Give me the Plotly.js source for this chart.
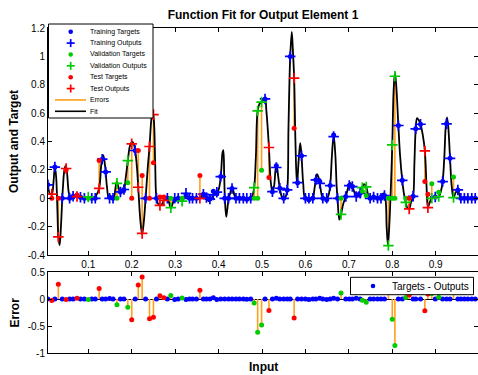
<!DOCTYPE html>
<html><head><meta charset="utf-8">
<script src="https://cdn.plot.ly/plotly-3.0.1.min.js"></script>
<style>html,body{margin:0;padding:0;background:#fff}#chart{width:478px;height:375px}</style>
</head><body><div id="chart"></div>
<script>
// ---------- DATA ----------
const trainX = [0.007,0.023,0.040,0.057,0.065,0.082,0.091,0.108,0.116,0.132,0.140,0.149,0.157,0.174,0.182,0.208,0.232,0.257,0.282,0.299,0.307,0.325,0.333,0.340,0.349,0.365,0.372,0.380,0.388,0.396,0.405,0.414,0.423,0.431,0.440,0.448,0.457,0.465,0.474,0.507,0.524,0.533,0.541,0.550,0.558,0.565,0.582,0.591,0.600,0.608,0.617,0.624,0.633,0.640,0.649,0.657,0.665,0.674,0.693,0.701,0.708,0.717,0.726,0.749,0.757,0.766,0.774,0.782,0.814,0.823,0.848,0.854,0.865,0.899,0.916,0.925,0.933,0.951,0.958,0.966,0.974,0.983,0.991];
const trainT = [0.095,0.22,0,0,0.015,0.008,0,0,0,0.276,0.186,0.01,0,0.045,0.062,0.337,0,0,0,-0.01,0,0.025,0,0,0,0.029,0.005,-0.005,0.049,0.033,0.153,0,0,0.07,0,0,0,-0.006,0,0.70,0.047,0.229,0.071,0,0.059,1.0,0.11,0.30,0,-0.01,0,0.13,0.118,0,-0.01,0.09,0.447,0,0.012,0.09,0.083,0.024,0.035,0,0.01,0,0,0.02,0.513,0.127,0.014,0.49,0.522,0.01,0.118,0.525,0.282,0.059,0,0,0,0,0];
const trainY = [0.095,0.22,0,0,0.015,0.008,0,0,0,0.276,0.186,0,0,0.045,0.062,0.337,0,0,0,0,0,0.035,0,0,0,0.029,0.005,-0.005,0.024,0.043,0.153,0,0,0.07,0,0,0,0,0,0.70,0.047,0.217,0.071,0,0.059,1.0,0.11,0.30,0,0,0,0.13,0.106,0,0,0.09,0.435,0,0.012,0.09,0.083,0.012,0.035,0,0.01,0,0,0.02,0.513,0.127,0.014,0.49,0.522,0.01,0.118,0.525,0.282,0.059,0,0,0,0,0];

const valX = [0.100,0.166,0.191,0.290,0.316,0.482,0.490,0.499,0.682,0.731,0.740,0.791,0.800,0.806,0.831,0.891,0.907,0.941];
const valT = [0,0,0.11,0,0,0,0,0.198,0,0.05,0.02,0,0,0,0,0.103,0.043,0.15];
const valY = [0.01,0.106,0.265,-0.066,-0.02,0.075,0.616,0.678,-0.113,0.075,0.08,-0.333,0.376,0.86,-0.028,0,0.012,0.005];

const testX = [0.016,0.031,0.049,0.074,0.125,0.200,0.215,0.224,0.241,0.250,0.265,0.274,0.357,0.516,0.574,0.839,0.875,0.882];
const testT = [0,0,0.20,0.024,0.266,0,0.337,0.16,0,0.25,0.01,0.01,0.16,0.146,0.494,0,0.118,0.028];
const testY = [0.03,-0.272,0.21,0.012,0.07,0.384,0.078,-0.247,0.365,0.59,-0.05,-0.015,0,0.358,0.847,-0.075,0.334,-0.066];

const fitX = [0.007,0.012,0.016,0.020,0.023,0.026,0.029,0.031,0.034,0.037,0.041,0.045,0.048,0.051,0.055,0.059,0.065,0.071,0.077,0.085,0.095,0.112,0.118,0.125,0.130,0.1345,0.139,0.143,0.148,0.158,0.162,0.1655,0.170,0.174,0.182,0.186,0.191,0.196,0.201,0.205,0.208,0.212,0.215,0.220,0.224,0.228,0.232,0.237,0.241,0.245,0.248,0.251,0.254,0.257,0.261,0.265,0.270,0.274,0.278,0.282,0.286,0.290,0.294,0.299,0.307,0.312,0.316,0.320,0.325,0.330,0.335,0.357,0.361,0.365,0.369,0.372,0.377,0.381,0.388,0.396,0.400,0.405,0.409,0.411,0.413,0.4145,0.4175,0.420,0.4233,0.427,0.431,0.435,0.440,0.474,0.478,0.482,0.486,0.490,0.495,0.499,0.503,0.507,0.510,0.513,0.516,0.520,0.524,0.528,0.532,0.534,0.537,0.541,0.546,0.550,0.554,0.558,0.561,0.565,0.5685,0.571,0.574,0.577,0.5805,0.584,0.588,0.591,0.595,0.600,0.617,0.620,0.624,0.6267,0.630,0.633,0.637,0.640,0.649,0.653,0.657,0.661,0.665,0.669,0.672,0.674,0.678,0.682,0.687,0.693,0.698,0.703,0.708,0.713,0.717,0.722,0.726,0.731,0.735,0.740,0.744,0.749,0.757,0.766,0.774,0.779,0.784,0.787,0.790,0.793,0.797,0.800,0.803,0.806,0.809,0.814,0.818,0.823,0.827,0.831,0.835,0.839,0.843,0.848,0.851,0.854,0.857,0.861,0.865,0.870,0.875,0.879,0.882,0.886,0.891,0.899,0.907,0.912,0.916,0.920,0.923,0.926,0.929,0.933,0.937,0.941,0.946,0.951,0.955,0.958,0.997];
const fitY = [0.095,0.03,0.03,0.12,0.225,0.15,-0.1,-0.272,-0.33,-0.2,0.05,0.2,0.23,0.18,0.04,0,0.015,0.02,0.008,0.003,0,0,0.02,0.07,0.24,0.304,0.22,0.08,0,0,0.06,0.118,0.07,0.045,0.062,0.14,0.265,0.37,0.40,0.38,0.337,0.22,0.078,-0.16,-0.255,-0.16,0,0.22,0.365,0.55,0.61,0.55,0.25,0,-0.04,-0.05,-0.04,-0.015,-0.005,0,-0.03,-0.07,-0.04,0,0,-0.005,-0.02,0,0.035,0.01,0,0,0.015,0.029,0.012,0.005,-0.02,-0.015,0.024,0.043,0.06,0.153,0.32,0.34,0.15,0,-0.13,-0.08,0,0.04,0.083,0.04,0,0,0.02,0.075,0.3,0.616,0.67,0.678,0.7,0.70,0.62,0.5,0.358,0.12,0.04,0.09,0.215,0.224,0.16,0.071,0.01,0,0.01,0.059,0.5,1.0,1.172,1.05,0.847,0.4,0.094,0.25,0.388,0.30,0.1,0,0,0.05,0.13,0.17,0.15,0.106,0.03,0,0,0.02,0.09,0.3,0.447,0.3,0.08,0,-0.15,-0.113,-0.04,0.012,0.07,0.109,0.083,0.04,0.012,0.015,0.035,0.075,0.1,0.08,0.03,0,0.01,0,0.005,0.035,0,-0.2,-0.329,-0.2,0.1,0.376,0.75,0.883,0.8,0.513,0.3,0.127,0.03,-0.028,-0.07,-0.075,-0.03,0.014,0.25,0.49,0.565,0.55,0.522,0.45,0.334,0.08,-0.066,-0.03,0,0.01,0.012,0.05,0.118,0.3,0.5,0.57,0.5,0.282,0.08,0.005,0.04,0.059,0.02,0,0];

const xTickVals = [0.1,0.2,0.3,0.4,0.5,0.6,0.7,0.8,0.9];
const xTickText = ['0.1','0.2','0.3','0.4','0.5','0.6','0.7','0.8','0.9'];
const yTickVals = [-0.4,-0.2,0,0.2,0.4,0.6,0.8,1,1.2];
const yTickText = ['-0.4','-0.2','0','0.2','0.4','0.6','0.8','1','1.2'];
const eTickVals = [-1,-0.5,0,0.5];
const eTickText = ['-1','-0.5','0','0.5'];
const legendLabels = ['Training Targets','Training Outputs','Validation Targets','Validation Outputs','Test Targets','Test Outputs','Errors','Fit'];
const errLegendLabel = 'Targets - Outputs';

// ---------- STYLE ----------
const FONT = 'Liberation Sans, Arial, sans-serif';
const BLUE='#0000ff', GREEN='#00cc00', RED='#ff0000', ORANGE='#ff9f1a', BLACK='#000000';
const W=478, H=375, ML=48, MR=0, MT=28, MB=22;
const PW=W-ML-MR, PH=H-MT-MB;
const pxX = v => (v-ML)/PW;
const pxY = v => (H-MB-v)/PH;

function diff(a,b){return a.map((v,i)=>v-b[i]);}
function stems(xs,a,b){const X=[],Y=[];xs.forEach((x,i)=>{X.push(x,x,null);Y.push(a[i],b[i],null);});return {X,Y};}
function join(list){return {X:[].concat(...list.map(s=>s.X)),Y:[].concat(...list.map(s=>s.Y))};}

const trainE = diff(trainT,trainY), valE = diff(valT,valY), testE = diff(testT,testY);
const topSt = join([stems(trainX,trainT,trainY),stems(valX,valT,valY),stems(testX,testT,testY)]);
const botSt = join([stems(trainX,trainX.map(()=>0),trainE),stems(valX,valX.map(()=>0),valE),stems(testX,testX.map(()=>0),testE)]);

const dot = c => ({symbol:'circle',size:5,color:c,line:{width:0}});
const plus = c => ({symbol:'cross-thin',size:7.5,color:c,line:{width:1.7,color:c}});

const traces = [
  {x:topSt.X,y:topSt.Y,mode:'lines',line:{color:ORANGE,width:1.6},name:'Errors',xaxis:'x',yaxis:'y'},
  {x:fitX,y:fitY,mode:'lines',line:{color:BLACK,width:1.8,shape:'spline',smoothing:1},name:'Fit',xaxis:'x',yaxis:'y'},
  {x:trainX,y:trainT,mode:'markers',marker:dot(BLUE),name:'Training Targets'},
  {x:trainX,y:trainY,mode:'markers',marker:plus(BLUE),name:'Training Outputs'},
  {x:valX,y:valT,mode:'markers',marker:dot(GREEN),name:'Validation Targets'},
  {x:valX,y:valY,mode:'markers',marker:plus(GREEN),name:'Validation Outputs'},
  {x:testX,y:testT,mode:'markers',marker:dot(RED),name:'Test Targets'},
  {x:testX,y:testY,mode:'markers',marker:plus(RED),name:'Test Outputs'},
  {x:botSt.X,y:botSt.Y,mode:'lines',line:{color:ORANGE,width:1.6},name:'Errors',xaxis:'x2',yaxis:'y2'},
  {x:trainX,y:trainE,mode:'markers',marker:dot(BLUE),name:errLegendLabel,xaxis:'x2',yaxis:'y2'},
  {x:valX,y:valE,mode:'markers',marker:dot(GREEN),name:'Validation Errors',xaxis:'x2',yaxis:'y2'},
  {x:testX,y:testE,mode:'markers',marker:dot(RED),name:'Test Errors',xaxis:'x2',yaxis:'y2'}
];

// ---------- compact MATLAB-style legends drawn as layout decorations ----------
const kinds = ['dot','plus','dot','plus','dot','plus','line','line'];
const kcolors = [BLUE,BLUE,GREEN,GREEN,RED,RED,ORANGE,BLACK];
const shapes = [{type:'rect',xref:'paper',yref:'paper',x0:pxX(48.5),x1:pxX(153),y0:pxY(24),y1:pxY(118),fillcolor:'#ffffff',line:{color:BLACK,width:1},layer:'above'}];
const annotations = [];
function symbolAt(kind,color,cx,cy){
  const base = {xref:'paper',yref:'paper',xsizemode:'pixel',ysizemode:'pixel',xanchor:pxX(cx),yanchor:pxY(cy),layer:'above'};
  if(kind==='dot') shapes.push(Object.assign({type:'circle',x0:-2.3,x1:2.3,y0:-2.3,y1:2.3,fillcolor:color,line:{width:0}},base));
  else {
    shapes.push(Object.assign({type:'line',x0:-4,x1:4,y0:0,y1:0,line:{color:color,width:1.7}},base));
    shapes.push(Object.assign({type:'line',x0:0,x1:0,y0:-4,y1:4,line:{color:color,width:1.7}},base));
  }
}
legendLabels.forEach((lab,i)=>{
  const yc = 31.7 + i*11.37;
  if(kinds[i]==='line') shapes.push({type:'line',xref:'paper',yref:'paper',x0:pxX(55),x1:pxX(86),y0:pxY(yc),y1:pxY(yc),line:{color:kcolors[i],width:1.6},layer:'above'});
  else symbolAt(kinds[i],kcolors[i],70.7,yc);
  annotations.push({text:lab,xref:'paper',yref:'paper',x:pxX(88.5),y:pxY(yc),xanchor:'left',yanchor:'middle',showarrow:false,borderpad:0,font:{family:FONT,size:7,color:BLACK}});
});
shapes.push({type:'rect',xref:'paper',yref:'paper',x0:pxX(350.5),x1:pxX(473.5),y0:pxY(277.3),y1:pxY(294.7),fillcolor:'#ffffff',line:{color:BLACK,width:1},layer:'above'});
symbolAt('dot',BLUE,373,286);
annotations.push({text:errLegendLabel,xref:'paper',yref:'paper',x:pxX(391),y:pxY(286),xanchor:'left',yanchor:'middle',showarrow:false,borderpad:0,font:{family:FONT,size:10,color:BLACK}});

annotations.push({text:'Output and Target',xref:'paper',yref:'paper',x:pxX(14),y:pxY(142),xanchor:'center',yanchor:'middle',textangle:-90,showarrow:false,font:{family:FONT,size:12,weight:'bold',color:BLACK}});
annotations.push({text:'Error',xref:'paper',yref:'paper',x:pxX(14),y:pxY(312.5),xanchor:'center',yanchor:'middle',textangle:-90,showarrow:false,font:{family:FONT,size:12,weight:'bold',color:BLACK}});
annotations.push({text:'Input',xref:'paper',yref:'paper',x:pxX(263),y:pxY(367),xanchor:'center',yanchor:'middle',showarrow:false,font:{family:FONT,size:12,weight:'bold',color:BLACK}});

const axBase = {showgrid:false,zeroline:false,showline:true,linecolor:BLACK,linewidth:1,mirror:'ticks',ticks:'inside',ticklen:4,tickcolor:BLACK,tickwidth:1,tickfont:{family:FONT,size:10,color:BLACK},tickmode:'array'};
const xr = [0.0072,0.9974];
const layout = {
  width:W,height:H,margin:{l:ML,r:MR,t:MT,b:MB,pad:0},
  paper_bgcolor:'#ffffff',plot_bgcolor:'#ffffff',
  font:{family:FONT,size:10,color:BLACK},
  title:{text:'Function Fit for Output Element 1',font:{family:FONT,size:12,weight:'bold',color:BLACK},xref:'container',yref:'container',x:263/W,y:1-15/H,xanchor:'center',yanchor:'middle'},
  xaxis:Object.assign({},axBase,{domain:[0,1],range:xr,tickvals:xTickVals,ticktext:xTickText,anchor:'y'}),
  yaxis:Object.assign({},axBase,{domain:[(353-255.1)/PH,1],range:[-0.4,1.2],tickvals:yTickVals,ticktext:yTickText,anchor:'x'}),
  xaxis2:Object.assign({},axBase,{domain:[0,1],range:xr,tickvals:xTickVals,ticktext:xTickText,showticklabels:false,anchor:'y2'}),
  yaxis2:Object.assign({},axBase,{domain:[0,(353-272)/PH],range:[-1,0.5],tickvals:eTickVals,ticktext:eTickText,anchor:'x2',zeroline:true,zerolinecolor:BLACK,zerolinewidth:1}),
  showlegend:false,
  shapes:shapes,annotations:annotations
};
Plotly.newPlot('chart',traces,layout,{displayModeBar:false,staticPlot:true});
</script></body></html>
